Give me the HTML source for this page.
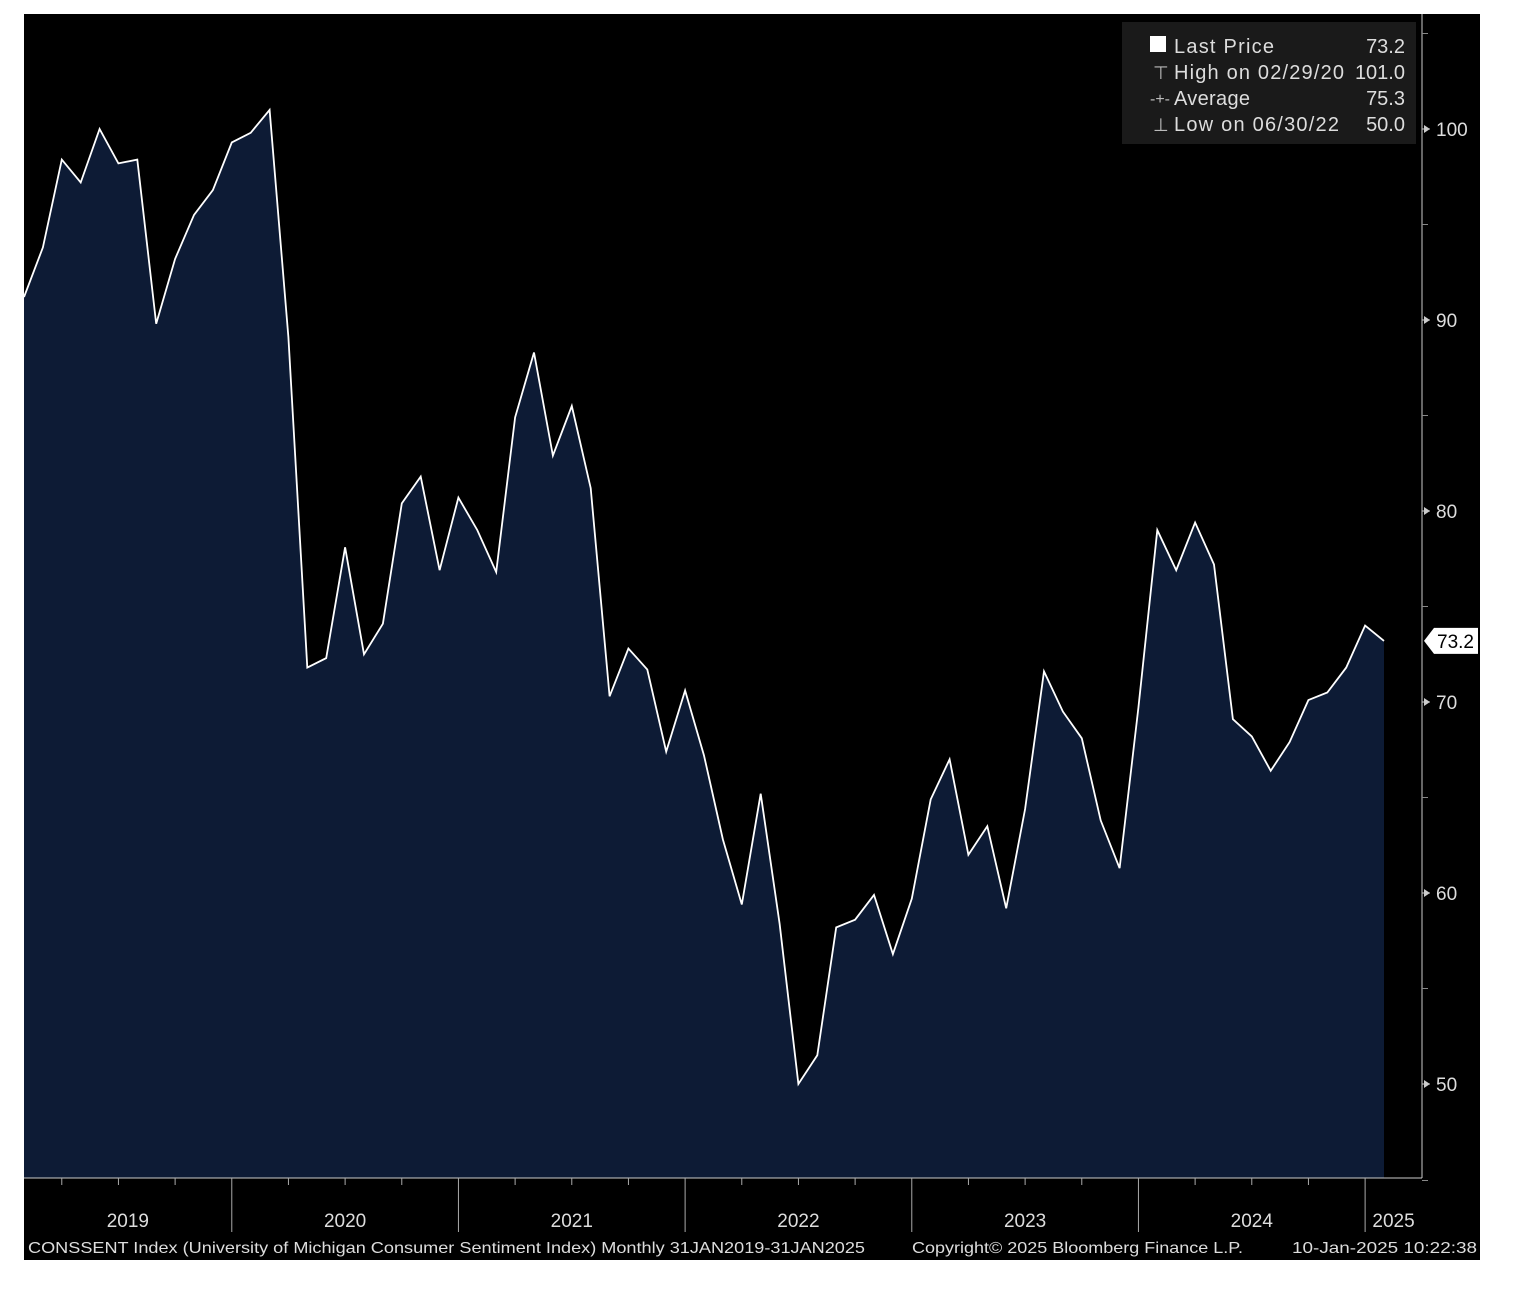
<!DOCTYPE html>
<html><head><meta charset="utf-8"><style>
body{margin:0;background:#fff;width:1514px;height:1290px;overflow:hidden}
svg{display:block}
text{font-family:"Liberation Sans",sans-serif}
</style></head><body>
<svg id="chart" width="1514" height="1290">
<rect x="24" y="14" width="1456" height="1246" fill="#000"/>
<g id="plot"></g>
<g id="axes"></g>
<g>
<rect x="1122" y="22" width="294" height="122" fill="#1a1a1a"/>
<rect x="1150" y="36" width="16" height="16" fill="#fff"/>
<text x="1174" y="53" fill="#ddd" font-size="20" textLength="100">Last Price</text><text x="1405" y="53" fill="#ddd" font-size="20" text-anchor="end">73.2</text>
<text x="1153" y="79" fill="#bbb" font-size="18">⊤</text>
<text x="1174" y="79" fill="#ddd" font-size="20" textLength="170">High on 02/29/20</text><text x="1405" y="79" fill="#ddd" font-size="20" text-anchor="end">101.0</text>
<text x="1150" y="104" fill="#bbb" font-size="16">-+-</text>
<text x="1174" y="105" fill="#ddd" font-size="20" textLength="76">Average</text><text x="1405" y="105" fill="#ddd" font-size="20" text-anchor="end">75.3</text>
<text x="1153" y="131" fill="#bbb" font-size="18">⊥</text>
<text x="1174" y="131" fill="#ddd" font-size="20" textLength="165">Low on 06/30/22</text><text x="1405" y="131" fill="#ddd" font-size="20" text-anchor="end">50.0</text>
</g>
<text x="28" y="1253" fill="#ddd" font-size="16" textLength="837" lengthAdjust="spacingAndGlyphs">CONSSENT Index (University of Michigan Consumer Sentiment Index)  Monthly 31JAN2019-31JAN2025</text>
<text x="912" y="1253" fill="#ddd" font-size="16" textLength="331" lengthAdjust="spacingAndGlyphs">Copyright© 2025 Bloomberg Finance L.P.</text>
<text x="1292" y="1253" fill="#ddd" font-size="16" textLength="185" lengthAdjust="spacingAndGlyphs">10-Jan-2025 10:22:38</text>
</svg>
<script>
const values=[91.2,93.8,98.4,97.2,100.0,98.2,98.4,89.8,93.2,95.5,96.8,99.3,
99.8,101.0,89.1,71.8,72.3,78.1,72.5,74.1,80.4,81.8,76.9,80.7,
79.0,76.8,84.9,88.3,82.9,85.5,81.2,70.3,72.8,71.7,67.4,70.6,
67.2,62.8,59.4,65.2,58.4,50.0,51.5,58.2,58.6,59.9,56.8,59.7,
64.9,67.0,62.0,63.5,59.2,64.4,71.6,69.5,68.1,63.8,61.3,69.7,
79.0,76.9,79.4,77.2,69.1,68.2,66.4,67.9,70.1,70.5,71.8,74.0,73.2];
const yTicks=[50,60,70,80,90,100];
const years=["2019","2020","2021","2022","2023","2024","2025"];
const lastLabel="73.2";
const NS="http://www.w3.org/2000/svg";
const xs=i=>24+i*(1360/72);
const ys=v=>129+(100-v)*19.1;
const plot=document.getElementById('plot'),axes=document.getElementById('axes');
function mk(t,a,p){const e=document.createElementNS(NS,t);for(const k in a)e.setAttribute(k,a[k]);p.appendChild(e);return e;}
let pts=values.map((v,i)=>xs(i).toFixed(1)+','+ys(v).toFixed(1));
const area=mk('path',{d:'M'+xs(0)+',1178 L'+pts.join(' L')+' L'+xs(values.length-1)+',1178 Z',fill:'#0d1b35'},plot);


const line=mk('polyline',{points:pts.join(' '),fill:'none',stroke:'#fff','stroke-width':1.8},plot);


mk('line',{x1:1422,y1:14,x2:1422,y2:1178,stroke:'#ccc','stroke-width':1},axes);
yTicks.forEach(v=>{
 const y=ys(v);
 mk('line',{x1:1422,y1:y,x2:1430,y2:y,stroke:'#ccc'},axes);
 mk('path',{d:`M1424 ${y-4} L1430 ${y} L1424 ${y+4}Z`,fill:'#ccc'},axes);
 const t=mk('text',{x:1436,y:y+7,fill:'#ddd','font-size':19},axes);t.textContent=v;
 
 
 mk('line',{x1:1422,y1:y-95.5,x2:1428,y2:y-95.5,stroke:'#888'},axes);
});
mk('line',{x1:1422,y1:ys(45)+1,x2:1428,y2:ys(45)+1,stroke:'#888'},axes);
const ly=ys(values[values.length-1]);
mk('path',{d:`M1424 ${ly} L1434 ${ly-13} L1478 ${ly-13} L1478 ${ly+13} L1434 ${ly+13}Z`,fill:'#fff'},axes);
const lt=mk('text',{x:1437,y:ly+7,fill:'#000','font-size':19},axes);lt.textContent=lastLabel;


mk('line',{x1:24,y1:1178,x2:1422,y2:1178,stroke:'#ccc'},axes);
for(let i=2;i<values.length;i+=3){const x=xs(i);if((i+1)%12!==0)mk('line',{x1:x,y1:1178,x2:x,y2:1185,stroke:'#aaa'},axes);}
years.forEach((yr,k)=>{
 const b=xs(11+12*k);
 if(k<6)mk('line',{x1:b,y1:1178,x2:b,y2:1232,stroke:'#aaa'},axes);
 const s=k===0?24:xs(11+12*(k-1));const e=k<6?b:1422;
 const t=mk('text',{x:(s+e)/2,y:1227,fill:'#ddd','font-size':19,'text-anchor':'middle'},axes);t.textContent=yr;
 
 
});
</script>
</body></html>
